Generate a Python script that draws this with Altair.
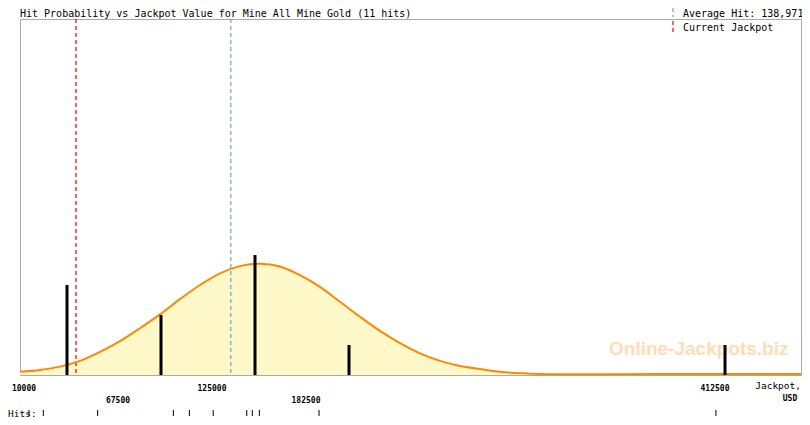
import altair as alt
import pandas as pd

# --- data --------------------------------------------------------------------
title = "Hit Probability vs Jackpot Value for Mine All Mine Gold (11 hits)"

# individual hits (USD), from the "Hits:" strip
hits = [15500, 24250, 57500, 103800, 113600, 128200, 148700, 152100, 156400, 192900, 435700]

# histogram: bin centres (57,500 wide bins from 10,000) and hits per bin
bin_centres = [38750, 96250, 153750, 211250, 441250]
bin_counts = [3, 2, 4, 1, 1]

# probability curve, in the same units as the bin counts
curve_x = [10000, 22230, 34470, 46700, 58940, 71170, 83400, 95640, 107870, 120110,
           132340, 144570, 156810, 169040, 181280, 193510, 205740, 217980, 230210,
           242450, 254680, 266910, 279150, 291380, 303620, 315850, 328090, 400000, 487740]
curve_y = [0.11, 0.17, 0.28, 0.47, 0.77, 1.13, 1.56, 2.02, 2.53, 3.00,
           3.39, 3.63, 3.71, 3.62, 3.33, 2.94, 2.44, 1.94, 1.47,
           1.06, 0.72, 0.47, 0.30, 0.20, 0.11, 0.06, 0.03, 0.03, 0.03]

current_jackpot = 44250
average_hit = 138971

tick_values = [67500, 125000, 182500, 240000, 297500, 355000, 412500, 470000]
labels_row1 = [10000, 125000]
labels_row2 = [67500, 182500]
labels_far = [412500]

# --- chart ---------------------------------------------------------------------
W, H = 781, 356
MONO = "DejaVu Sans Mono"
x_scale = alt.Scale(domain=[10000, 487740], nice=False, zero=False)
y_scale = alt.Scale(domain=[0, 11.87], nice=False)


def xq(field="v"):
    return alt.X(f"{field}:Q", scale=x_scale, axis=None)


curve = pd.DataFrame({"jackpot": curve_x, "p": curve_y})
base = alt.Chart(curve).encode(
    x=alt.X(
        "jackpot:Q",
        scale=x_scale,
        axis=alt.Axis(values=tick_values, labels=False, title=None, grid=False,
                      domainColor="#aaaaaa", tickColor="#aaaaaa", tickSize=5),
    ),
    y=alt.Y("p:Q", scale=y_scale, axis=None),
)
area = base.mark_area(color="#fff8c8", interpolate="catmull-rom")
line = base.mark_line(color="#ff8800", strokeWidth=2, interpolate="catmull-rom")

red = (
    alt.Chart(pd.DataFrame({"v": [current_jackpot]}))
    .mark_rule(color="#ee0000", strokeDash=[4, 3], strokeWidth=1.2)
    .encode(x=xq())
)
blue = (
    alt.Chart(pd.DataFrame({"v": [average_hit]}))
    .mark_rule(color="#4896c8", strokeDash=[4, 3], strokeWidth=1)
    .encode(x=xq())
)

bars = (
    alt.Chart(pd.DataFrame({"v": bin_centres, "n": bin_counts}))
    .mark_rule(color="black", strokeWidth=3)
    .encode(x=xq(), y=alt.Y("n:Q", scale=y_scale, axis=None), y2=alt.datum(0))
)

hit_ticks = (
    alt.Chart(pd.DataFrame({"v": hits}))
    .mark_rule(color="black", strokeWidth=1)
    .encode(x=xq(), y=alt.value(H + 35), y2=alt.value(H + 41))
)


def tick_labels(values, row_y, dx):
    return (
        alt.Chart(pd.DataFrame({"v": values}))
        .mark_text(font=MONO, fontSize=8, fontWeight="bold", align="center", dx=dx, color="black")
        .encode(x=xq(), y=alt.value(row_y), text=alt.Text("v:Q", format="d"))
    )


lab1 = tick_labels(labels_row1, H + 13.5, 4)
lab2 = tick_labels(labels_row2, H + 26, 4)
lab3 = tick_labels(labels_far, H + 13.5, 37)


def note(text, x, y, size=10, weight="normal", color="black", font=MONO, align="left"):
    return (
        alt.Chart(pd.DataFrame({"t": [text]}))
        .mark_text(font=font, fontSize=size, fontWeight=weight, color=color, align=align,
                   baseline="alphabetic")
        .encode(text="t:N", x=alt.value(x), y=alt.value(y))
    )


title_txt = note(title, 0, -2.5)
avg_txt = note(f"Average Hit: {average_hit:,}", 663, -2.5)
cur_txt = note("Current Jackpot", 663, 12)
jack_txt = note("Jackpot,", 781, H + 13.5, size=9.5, align="right")
usd_txt = note("USD", 770, H + 26, size=8, weight="bold", align="center")
hits_txt = note("Hits:", -12, H + 41.5, size=9.5)
watermark = note("Online-Jackpots.biz", 589, 336, size=19, weight="bold",
                 color="#ffdcb4", font="Liberation Sans")

avg_key = (
    alt.Chart(pd.DataFrame({"t": ["avg"]}))
    .mark_rule(color="#4896c8", strokeDash=[4, 3], strokeWidth=1)
    .encode(x=alt.value(653), y=alt.value(-11), y2=alt.value(-2))
)
cur_key = (
    alt.Chart(pd.DataFrame({"t": ["cur"]}))
    .mark_rule(color="#ee0000", strokeDash=[4, 3], strokeWidth=1.2)
    .encode(x=alt.value(653), y=alt.value(2), y2=alt.value(14))
)

chart = (
    alt.layer(area, red, blue, line, watermark, bars, hit_ticks, lab1, lab2, lab3,
              title_txt, avg_txt, cur_txt, jack_txt, usd_txt, hits_txt, avg_key, cur_key)
    .properties(
        width=W,
        height=H,
        autosize=alt.AutoSizeParams(type="none"),
        padding={"left": 12, "top": 11, "right": 1, "bottom": 42},
    )
    .configure_view(stroke="#aaaaaa", strokeWidth=1)
)

chart.save("out.html", embed_options={"renderer": "svg", "actions": False})
